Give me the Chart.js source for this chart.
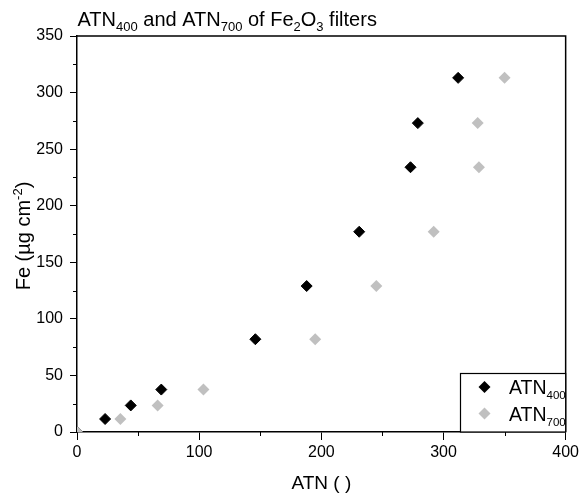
<!DOCTYPE html>
<html>
<head>
<meta charset="UTF-8">
<title>ATN400 and ATN700 of Fe2O3 filters</title>
<script src="https://cdn.jsdelivr.net/npm/chart.js"></script>
<style type="text/css">
	html, body { margin: 0; padding: 0; background: #fff; }
	#chartArea { width: 582px; height: 501px; }
</style>
</head>
<body>
<div id="chartArea">
	<canvas id="myChart" width="582" height="501"></canvas>
</div>
<script>
// Fe loading (ug cm-2) and attenuation at 400 / 700 nm
var fe = [0, 11.5, 23.5, 37.5, 82, 129, 177, 234, 273, 313];
var atn400 = [0, 23, 44, 69, 146, 188, 231, 273, 279, 312];
var atn700 = [0, 35.5, 66, 103.5, 195, 245, 292, 329, 328, 350];

var xTicks = [0, 100, 200, 300, 400];
var yTicks = [0, 50, 100, 150, 200, 250, 300, 350];

var FONT = '"Liberation Sans", Arial, sans-serif';

function pairs(xs, ys) {
	var out = [];
	for (var i = 0; i < xs.length; i++) out.push({x: xs[i], y: ys[i]});
	return out;
}

// text pieces with different size / vertical shift
function richWidth(ctx, parts) {
	var w = 0;
	parts.forEach(function(p) {
		ctx.font = p[1] + 'px ' + FONT;
		w += ctx.measureText(p[0]).width;
	});
	return w;
}
function drawRich(ctx, parts, x, y) {
	parts.forEach(function(p) {
		ctx.font = p[1] + 'px ' + FONT;
		ctx.fillText(p[0], x, y + (p[2] || 0));
		x += ctx.measureText(p[0]).width;
	});
	return x;
}

var extras = {
	id: 'extras',
	afterDraw: function(chart) {
		var ctx = chart.ctx;
		var a = chart.chartArea;
		var xs = chart.scales.x, ys = chart.scales.y;
		ctx.save();
		ctx.fillStyle = '#000';
		ctx.strokeStyle = '#000';

		// box: top and right lines
		ctx.lineWidth = 1.5;
		ctx.beginPath();
		ctx.moveTo(a.left, a.top);
		ctx.lineTo(a.right, a.top);
		ctx.lineTo(a.right, a.bottom);
		ctx.stroke();

		// minor ticks
		ctx.lineWidth = 1;
		ctx.beginPath();
		for (var v = 50; v < 400; v += 100) {
			var px = Math.round(xs.getPixelForValue(v)) + 0.5;
			ctx.moveTo(px, a.bottom);
			ctx.lineTo(px, a.bottom + 4);
		}
		for (var w = 25; w < 350; w += 50) {
			var py = Math.round(ys.getPixelForValue(w)) + 0.5;
			ctx.moveTo(a.left, py);
			ctx.lineTo(a.left - 4, py);
		}
		ctx.stroke();

		// title
		ctx.textBaseline = 'alphabetic';
		ctx.textAlign = 'left';
		drawRich(ctx, [
			['ATN', 20], ['400', 13, 5], [' and ATN', 20], ['700', 13, 5],
			[' of Fe', 20], ['2', 13, 5], ['O', 20], ['3', 13, 5], [' filters', 20]
		], 77.5, 26);

		// y axis title
		var yParts = [['Fe (\u00b5g cm', 20], ['-2', 13, -8], [')', 20]];
		ctx.save();
		ctx.translate(30, 236);
		ctx.rotate(-Math.PI / 2);
		drawRich(ctx, yParts, -richWidth(ctx, yParts) / 2, 0);
		ctx.restore();

		// legend
		var lx = 460.5, ly = 373.5, lw = a.right - lx, lh = a.bottom - ly;
		ctx.fillStyle = '#fff';
		ctx.fillRect(lx, ly, lw, lh);
		ctx.lineWidth = 1.2;
		ctx.strokeRect(lx, ly, lw, lh);
		var items = [
			{sub: '400', color: '#000', y: 387},
			{sub: '700', color: '#c0c0c0', y: 413.5}
		];
		items.forEach(function(it) {
			ctx.fillStyle = it.color;
			ctx.strokeStyle = it.color;
			ctx.lineWidth = 1;
			Chart.helpers.drawPoint(ctx, {pointStyle: 'rectRot', radius: 6, rotation: 0, borderWidth: 0}, 484.5, it.y);
			ctx.fillStyle = '#000';
			drawRich(ctx, [['ATN', 19.5], [it.sub, 11.5, 5]], 509, it.y + 7);
		});
		ctx.restore();
	}
};

var ctx = document.getElementById('myChart').getContext('2d');
var myChart = new Chart(ctx, {
	type: 'scatter',
	data: {
		datasets: [{
			label: 'ATN400',
			data: pairs(atn400, fe),
			pointStyle: 'rectRot',
			pointRadius: 5.5,
			pointHoverRadius: 5.5,
			backgroundColor: '#000',
			borderColor: '#000',
			borderWidth: 1,
			order: 2,
			clip: 0
		}, {
			label: 'ATN700',
			data: pairs(atn700, fe),
			pointStyle: 'rectRot',
			pointRadius: 6,
			pointHoverRadius: 6,
			backgroundColor: '#c0c0c0',
			borderColor: '#c0c0c0',
			borderWidth: 0,
			order: 1,
			clip: 0
		}]
	},
	options: {
		responsive: false,
		animation: false,
		events: [],
		layout: { padding: { top: 36, right: 15, left: 0, bottom: 0 } },
		plugins: {
			legend: { display: false },
			tooltip: { enabled: false }
		},
		scales: {
			x: {
				type: 'linear',
				min: 0, max: 400,
				afterBuildTicks: function(s) { s.ticks = xTicks.map(function(v) { return {value: v}; }); },
				afterFit: function(s) { s.height = 69; },
				grid: { drawOnChartArea: false, drawTicks: true, tickLength: 8, color: '#000', lineWidth: 1 },
				border: { display: true, color: '#000', width: 1.5 },
				ticks: { color: '#000', padding: 3, maxRotation: 0, font: { family: FONT, size: 16 } },
				title: { display: true, text: 'ATN ( )', color: '#000', padding: { top: 0, bottom: 6 }, font: { family: FONT, size: 19 } }
			},
			y: {
				type: 'linear',
				min: 0, max: 350,
				afterBuildTicks: function(s) { s.ticks = yTicks.map(function(v) { return {value: v}; }); },
				afterFit: function(s) { s.width = 77; },
				grid: { drawOnChartArea: false, drawTicks: true, tickLength: 7, color: '#000', lineWidth: 1 },
				border: { display: true, color: '#000', width: 1.5 },
				ticks: { color: '#000', padding: 7, font: { family: FONT, size: 16 } }
			}
		}
	},
	plugins: [extras]
});
</script>
</body>
</html>
